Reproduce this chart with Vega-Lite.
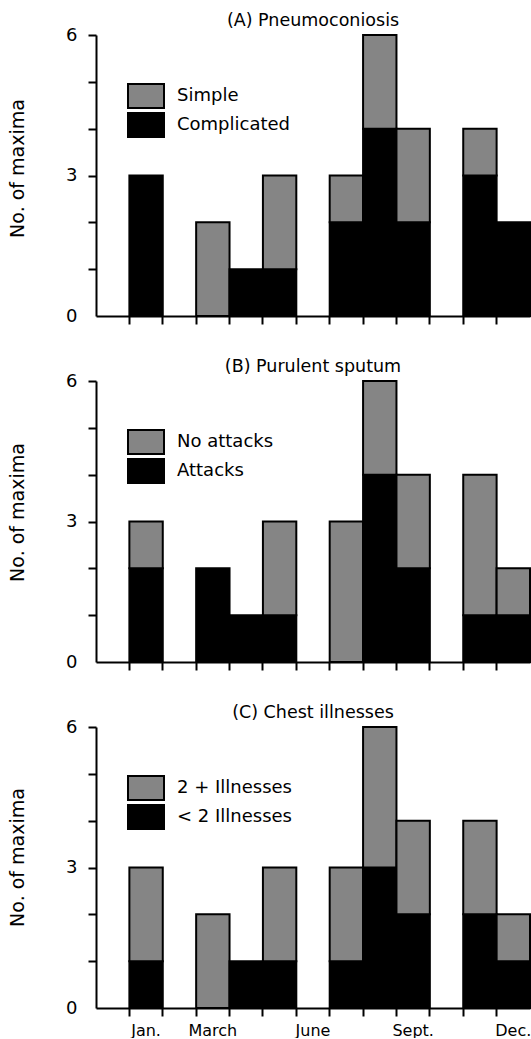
{
  "$schema": "https://vega.github.io/schema/vega-lite/v6.json",
  "background": "white",
  "padding": {"left": 8, "top": 11, "right": 0, "bottom": 0},
  "config": {
    "font": "DejaVu Sans",
    "view": {"stroke": null},
    "axis": {"domainColor": "black", "domainWidth": 2, "tickColor": "black", "tickWidth": 2, "tickSize": 8, "labelColor": "black", "titleColor": "black", "grid": false, "labelFontSize": 18, "titleFontSize": 19, "titleFontWeight": "normal"},
    "title": {"fontSize": 17.5, "fontWeight": "normal", "color": "black", "offset": -3},
    "legend": {"symbolType": "M-1.5,-1H1.5V1H-1.5Z", "symbolSize": 576, "symbolStrokeColor": "black", "symbolStrokeWidth": 2, "symbolOpacity": 1, "labelFontSize": 18, "labelOffset": 18, "padding": 0, "labelColor": "black"},
    "concat": {"spacing": 32}
  },
  "datasets": {
    "a": [
      {"month": "Jan.", "type": "Complicated", "part": "lower", "n": 3},
      {"month": "March", "type": "Simple", "part": "upper", "n": 2},
      {"month": "April", "type": "Complicated", "part": "lower", "n": 1},
      {"month": "May", "type": "Complicated", "part": "lower", "n": 1},
      {"month": "May", "type": "Simple", "part": "upper", "n": 2},
      {"month": "July", "type": "Complicated", "part": "lower", "n": 2},
      {"month": "July", "type": "Simple", "part": "upper", "n": 1},
      {"month": "Aug.", "type": "Complicated", "part": "lower", "n": 4},
      {"month": "Aug.", "type": "Simple", "part": "upper", "n": 2},
      {"month": "Sept.", "type": "Complicated", "part": "lower", "n": 2},
      {"month": "Sept.", "type": "Simple", "part": "upper", "n": 2},
      {"month": "Nov.", "type": "Complicated", "part": "lower", "n": 3},
      {"month": "Nov.", "type": "Simple", "part": "upper", "n": 1},
      {"month": "Dec.", "type": "Complicated", "part": "lower", "n": 2}
    ],
    "b": [
      {"month": "Jan.", "type": "Attacks", "part": "lower", "n": 2},
      {"month": "Jan.", "type": "No  attacks", "part": "upper", "n": 1},
      {"month": "March", "type": "Attacks", "part": "lower", "n": 2},
      {"month": "April", "type": "Attacks", "part": "lower", "n": 1},
      {"month": "May", "type": "Attacks", "part": "lower", "n": 1},
      {"month": "May", "type": "No  attacks", "part": "upper", "n": 2},
      {"month": "July", "type": "No  attacks", "part": "upper", "n": 3},
      {"month": "Aug.", "type": "Attacks", "part": "lower", "n": 4},
      {"month": "Aug.", "type": "No  attacks", "part": "upper", "n": 2},
      {"month": "Sept.", "type": "Attacks", "part": "lower", "n": 2},
      {"month": "Sept.", "type": "No  attacks", "part": "upper", "n": 2},
      {"month": "Nov.", "type": "Attacks", "part": "lower", "n": 1},
      {"month": "Nov.", "type": "No  attacks", "part": "upper", "n": 3},
      {"month": "Dec.", "type": "Attacks", "part": "lower", "n": 1},
      {"month": "Dec.", "type": "No  attacks", "part": "upper", "n": 1}
    ],
    "c": [
      {"month": "Jan.", "type": "< 2 Illnesses", "part": "lower", "n": 1},
      {"month": "Jan.", "type": "2 + Illnesses", "part": "upper", "n": 2},
      {"month": "March", "type": "2 + Illnesses", "part": "upper", "n": 2},
      {"month": "April", "type": "< 2 Illnesses", "part": "lower", "n": 1},
      {"month": "May", "type": "< 2 Illnesses", "part": "lower", "n": 1},
      {"month": "May", "type": "2 + Illnesses", "part": "upper", "n": 2},
      {"month": "July", "type": "< 2 Illnesses", "part": "lower", "n": 1},
      {"month": "July", "type": "2 + Illnesses", "part": "upper", "n": 2},
      {"month": "Aug.", "type": "< 2 Illnesses", "part": "lower", "n": 3},
      {"month": "Aug.", "type": "2 + Illnesses", "part": "upper", "n": 3},
      {"month": "Sept.", "type": "< 2 Illnesses", "part": "lower", "n": 2},
      {"month": "Sept.", "type": "2 + Illnesses", "part": "upper", "n": 2},
      {"month": "Nov.", "type": "< 2 Illnesses", "part": "lower", "n": 2},
      {"month": "Nov.", "type": "2 + Illnesses", "part": "upper", "n": 2},
      {"month": "Dec.", "type": "< 2 Illnesses", "part": "lower", "n": 1},
      {"month": "Dec.", "type": "2 + Illnesses", "part": "upper", "n": 1}
    ]
  },
  "resolve": {"scale": {"color": "independent"}, "legend": {"color": "independent"}},
  "vconcat": [
    {
      "width": 434, "height": 281,
      "title": "(A) Pneumoconiosis",
      "data": {"name": "a"},
      "mark": {"type": "bar", "stroke": "black", "strokeWidth": 2},
      "encoding": {
        "x": {"field": "month", "type": "nominal",
          "scale": {"domain": [" ", "Jan.", "Feb.", "March", "April", "May", "June", "July", "Aug.", "Sept.", "Oct.", "Nov.", "Dec."], "paddingInner": 0, "paddingOuter": 0},
          "axis": {"title": null, "bandPosition": 0, "labels": false, "tickOpacity": {"condition": {"test": "datum.value == ' '", "value": 0}, "value": 1}}},
        "y": {"field": "n", "type": "quantitative", "stack": "zero",
          "scale": {"domain": [0, 6], "nice": false},
          "axis": {"title": "No. of maxima", "titleY": 133, "values": [0, 1, 2, 3, 4, 5, 6], "labelExpr": "datum.value % 3 == 0 ? datum.label : ''", "labelPadding": 11, "titlePadding": 38, "tickOpacity": {"condition": {"test": "datum.value == 0", "value": 0}, "value": 1}}},
        "color": {"field": "type", "type": "nominal",
          "scale": {"domain": ["Simple", "Complicated"], "range": ["#858585", "#000000"]},
          "legend": {"title": null, "orient": "none", "legendX": 37, "legendY": 48, "rowPadding": -8}},
        "order": {"field": "part", "type": "ordinal"}
      }
    },
    {
      "width": 434, "height": 281,
      "title": "(B) Purulent sputum",
      "data": {"name": "b"},
      "mark": {"type": "bar", "stroke": "black", "strokeWidth": 2},
      "encoding": {
        "x": {"field": "month", "type": "nominal",
          "scale": {"domain": [" ", "Jan.", "Feb.", "March", "April", "May", "June", "July", "Aug.", "Sept.", "Oct.", "Nov.", "Dec."], "paddingInner": 0, "paddingOuter": 0},
          "axis": {"title": null, "bandPosition": 0, "labels": false, "tickOpacity": {"condition": {"test": "datum.value == ' '", "value": 0}, "value": 1}}},
        "y": {"field": "n", "type": "quantitative", "stack": "zero",
          "scale": {"domain": [0, 6], "nice": false},
          "axis": {"title": "No. of maxima", "titleY": 131, "values": [0, 1, 2, 3, 4, 5, 6], "labelExpr": "datum.value % 3 == 0 ? datum.label : ''", "labelPadding": 11, "titlePadding": 38, "tickOpacity": {"condition": {"test": "datum.value == 0", "value": 0}, "value": 1}}},
        "color": {"field": "type", "type": "nominal",
          "scale": {"domain": ["No  attacks", "Attacks"], "range": ["#858585", "#000000"]},
          "legend": {"title": null, "orient": "none", "legendX": 37, "legendY": 48, "rowPadding": -8}},
        "order": {"field": "part", "type": "ordinal"}
      }
    },
    {
      "width": 434, "height": 281,
      "title": "(C) Chest illnesses",
      "data": {"name": "c"},
      "mark": {"type": "bar", "stroke": "black", "strokeWidth": 2},
      "encoding": {
        "x": {"field": "month", "type": "nominal",
          "scale": {"domain": [" ", "Jan.", "Feb.", "March", "April", "May", "June", "July", "Aug.", "Sept.", "Oct.", "Nov.", "Dec."], "paddingInner": 0, "paddingOuter": 0},
          "axis": {"title": null, "bandPosition": 0, "labelAngle": 0, "labelFontSize": 16, "labelPadding": 6, "labelOffset": 0, "labelExpr": "indexof(['Jan.','March','June','Sept.','Dec.'], datum.value) >= 0 ? datum.value : ''", "tickOpacity": {"condition": {"test": "datum.value == ' '", "value": 0}, "value": 1}}},
        "y": {"field": "n", "type": "quantitative", "stack": "zero",
          "scale": {"domain": [0, 6], "nice": false},
          "axis": {"title": "No. of maxima", "titleY": 130, "values": [0, 1, 2, 3, 4, 5, 6], "labelExpr": "datum.value % 3 == 0 ? datum.label : ''", "labelPadding": 11, "titlePadding": 38, "tickOpacity": {"condition": {"test": "datum.value == 0", "value": 0}, "value": 1}}},
        "color": {"field": "type", "type": "nominal",
          "scale": {"domain": ["2 + Illnesses", "< 2 Illnesses"], "range": ["#858585", "#000000"]},
          "legend": {"title": null, "orient": "none", "legendX": 37, "legendY": 48, "rowPadding": -8}},
        "order": {"field": "part", "type": "ordinal"}
      }
    }
  ]
}
